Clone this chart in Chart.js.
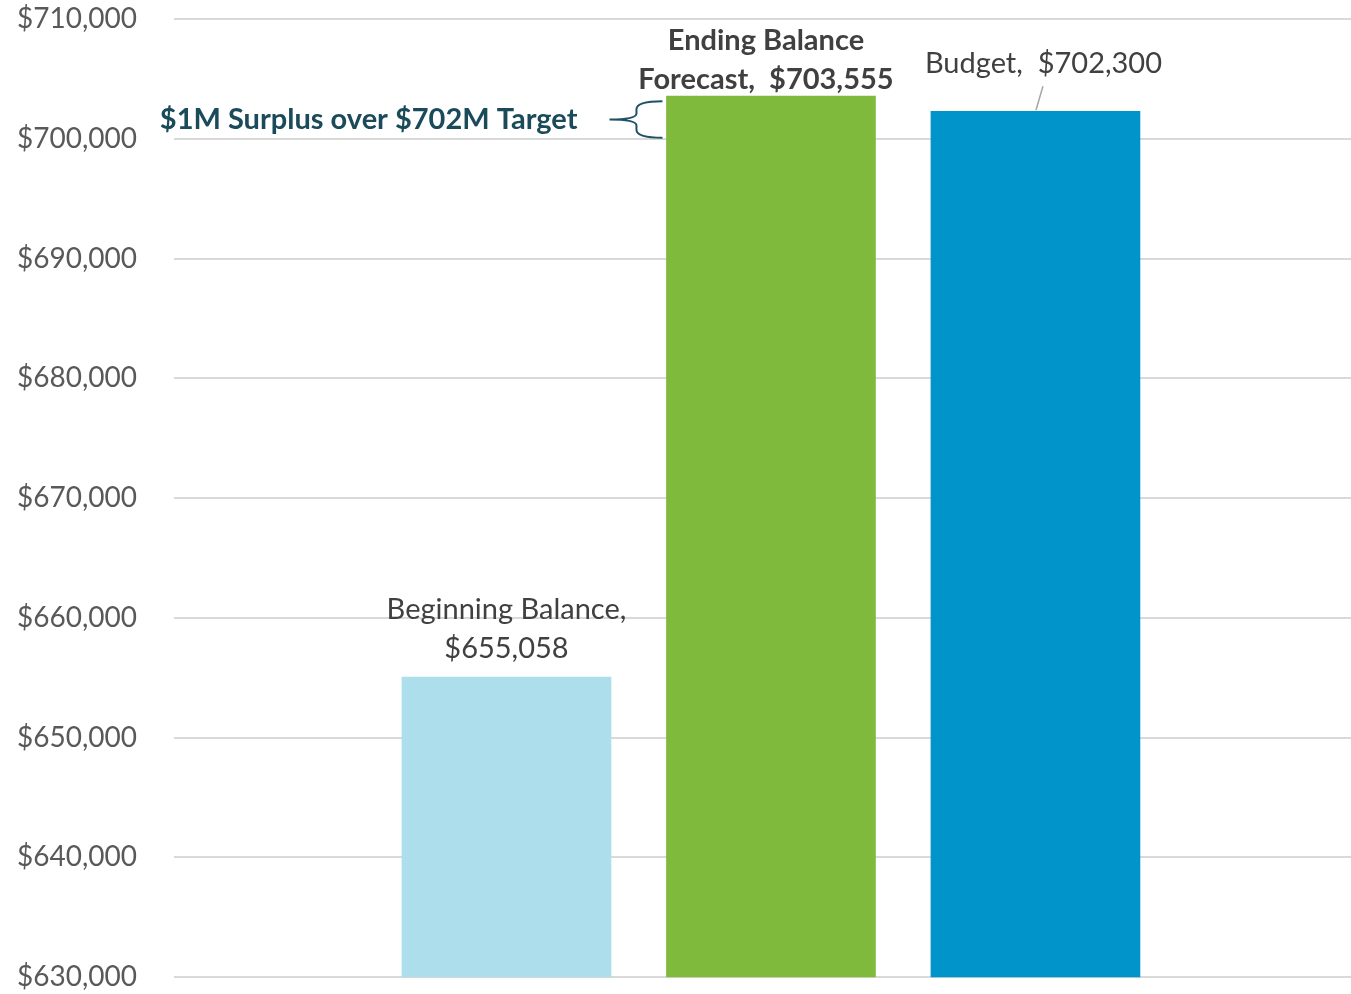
<!DOCTYPE html>
<html>
<head>
<meta charset="utf-8">
<script src="https://cdn.jsdelivr.net/npm/chart.js@4/dist/chart.umd.min.js"></script>
<style>
  body { margin: 0; background: #fff; }
  canvas { display: block; }
</style>
</head>
<body>
<canvas id="balanceChart" width="1351" height="994"></canvas>
<script>
// Chart data
const categories = ['Beginning Balance', 'Ending Balance Forecast', 'Budget'];
const balances = [655058, 703555, 702300];
const barColors = ['#ADDEEC', '#80BA3D', '#0094CA'];
const labelLines = [
    ['Beginning Balance,', '$655,058'],
    ['Ending Balance', 'Forecast,  $703,555'],
    ['Budget,  $702,300']
];
const yMin = 630000;
const yMax = 710000;
const yStep = 10000;
const targetValue = 700000;
const noteText = '$1M Surplus over $702M Target';

const FONT = 'Lato, "Open Sans", sans-serif';

// Label placement for each bar (offsets from bar top / centre)
const labelStyle = [
    { dx: 0, bottom: 19, bold: false },
    { dx: -5, bottom: 7, bold: true },
    { dx: 8, bottom: 38, bold: false, leader: true }
];

const annotate = {
    id: 'annotate',
    afterDatasetsDraw(chart) {
        const ctx = chart.ctx;
        const meta = chart.getDatasetMeta(0);
        const y = chart.scales.y;
        ctx.save();

        // Bar labels
        meta.data.forEach((bar, i) => {
            const st = labelStyle[i];
            const lines = labelLines[i];
            ctx.font = (st.bold ? 'bold ' : '') + '29px ' + FONT;
            ctx.fillStyle = '#404040';
            ctx.textAlign = 'center';
            ctx.textBaseline = 'alphabetic';
            const base = bar.y - st.bottom;
            lines.forEach((line, k) => {
                ctx.fillText(line, bar.x + st.dx, base - (lines.length - 1 - k) * 39);
            });
            if (st.leader) {
                ctx.strokeStyle = '#A6A6A6';
                ctx.lineWidth = 1.5;
                ctx.beginPath();
                ctx.moveTo(bar.x + 7.5, bar.y - 25);
                ctx.lineTo(bar.x + 0.5, bar.y - 1);
                ctx.stroke();
            }
        });

        // Curly brace between target and forecast
        const ending = meta.data[1];
        const xr = ending.x - ending.width / 2 - 4;
        const xm = xr - 26;
        const xt = xr - 53;
        const top = y.getPixelForValue(balances[1]) + 5;
        const bottom = y.getPixelForValue(targetValue) - 1;
        const mid = (top + bottom) / 2;
        ctx.strokeStyle = '#1F5266';
        ctx.lineWidth = 2;
        ctx.beginPath();
        ctx.moveTo(xr, top);
        ctx.quadraticCurveTo(xm, top, xm, top + 8);
        ctx.lineTo(xm, mid - 6);
        ctx.quadraticCurveTo(xm, mid, xt, mid);
        ctx.quadraticCurveTo(xm, mid, xm, mid + 6);
        ctx.lineTo(xm, bottom - 8);
        ctx.quadraticCurveTo(xm, bottom, xr, bottom);
        ctx.stroke();

        ctx.font = 'bold 29px ' + FONT;
        ctx.fillStyle = '#1B4A5A';
        ctx.textAlign = 'right';
        ctx.textBaseline = 'middle';
        ctx.fillText(noteText, xt - 32, mid);

        ctx.restore();
    }
};

new Chart(document.getElementById('balanceChart'), {
    type: 'bar',
    data: {
        datasets: [{
            label: 'Balance',
            data: categories.map((c, i) => ({ x: i + 1, y: balances[i] })),
            backgroundColor: barColors,
            barThickness: 209
        }]
    },
    options: {
        responsive: false,
        animation: false,
        layout: { padding: { top: 19, bottom: 13, left: 0, right: 0 } },
        plugins: {
            legend: { display: false },
            tooltip: { enabled: false }
        },
        scales: {
            x: {
                type: 'linear',
                min: -0.257,
                max: 4.193,
                offset: false,
                display: false
            },
            y: {
                min: yMin,
                max: yMax,
                border: { display: false },
                grid: {
                    color: '#D9D9D9',
                    lineWidth: 2,
                    drawTicks: true,
                    tickLength: 37,
                    tickColor: 'rgba(0,0,0,0)'
                },
                ticks: {
                    stepSize: yStep,
                    padding: 0,
                    color: '#595959',
                    font: { family: FONT, size: 28 },
                    callback: v => '$' + v.toLocaleString('en-US')
                },
                afterFit: scale => { scale.width = 174; }
            }
        }
    },
    plugins: [annotate]
});
</script>
</body>
</html>
